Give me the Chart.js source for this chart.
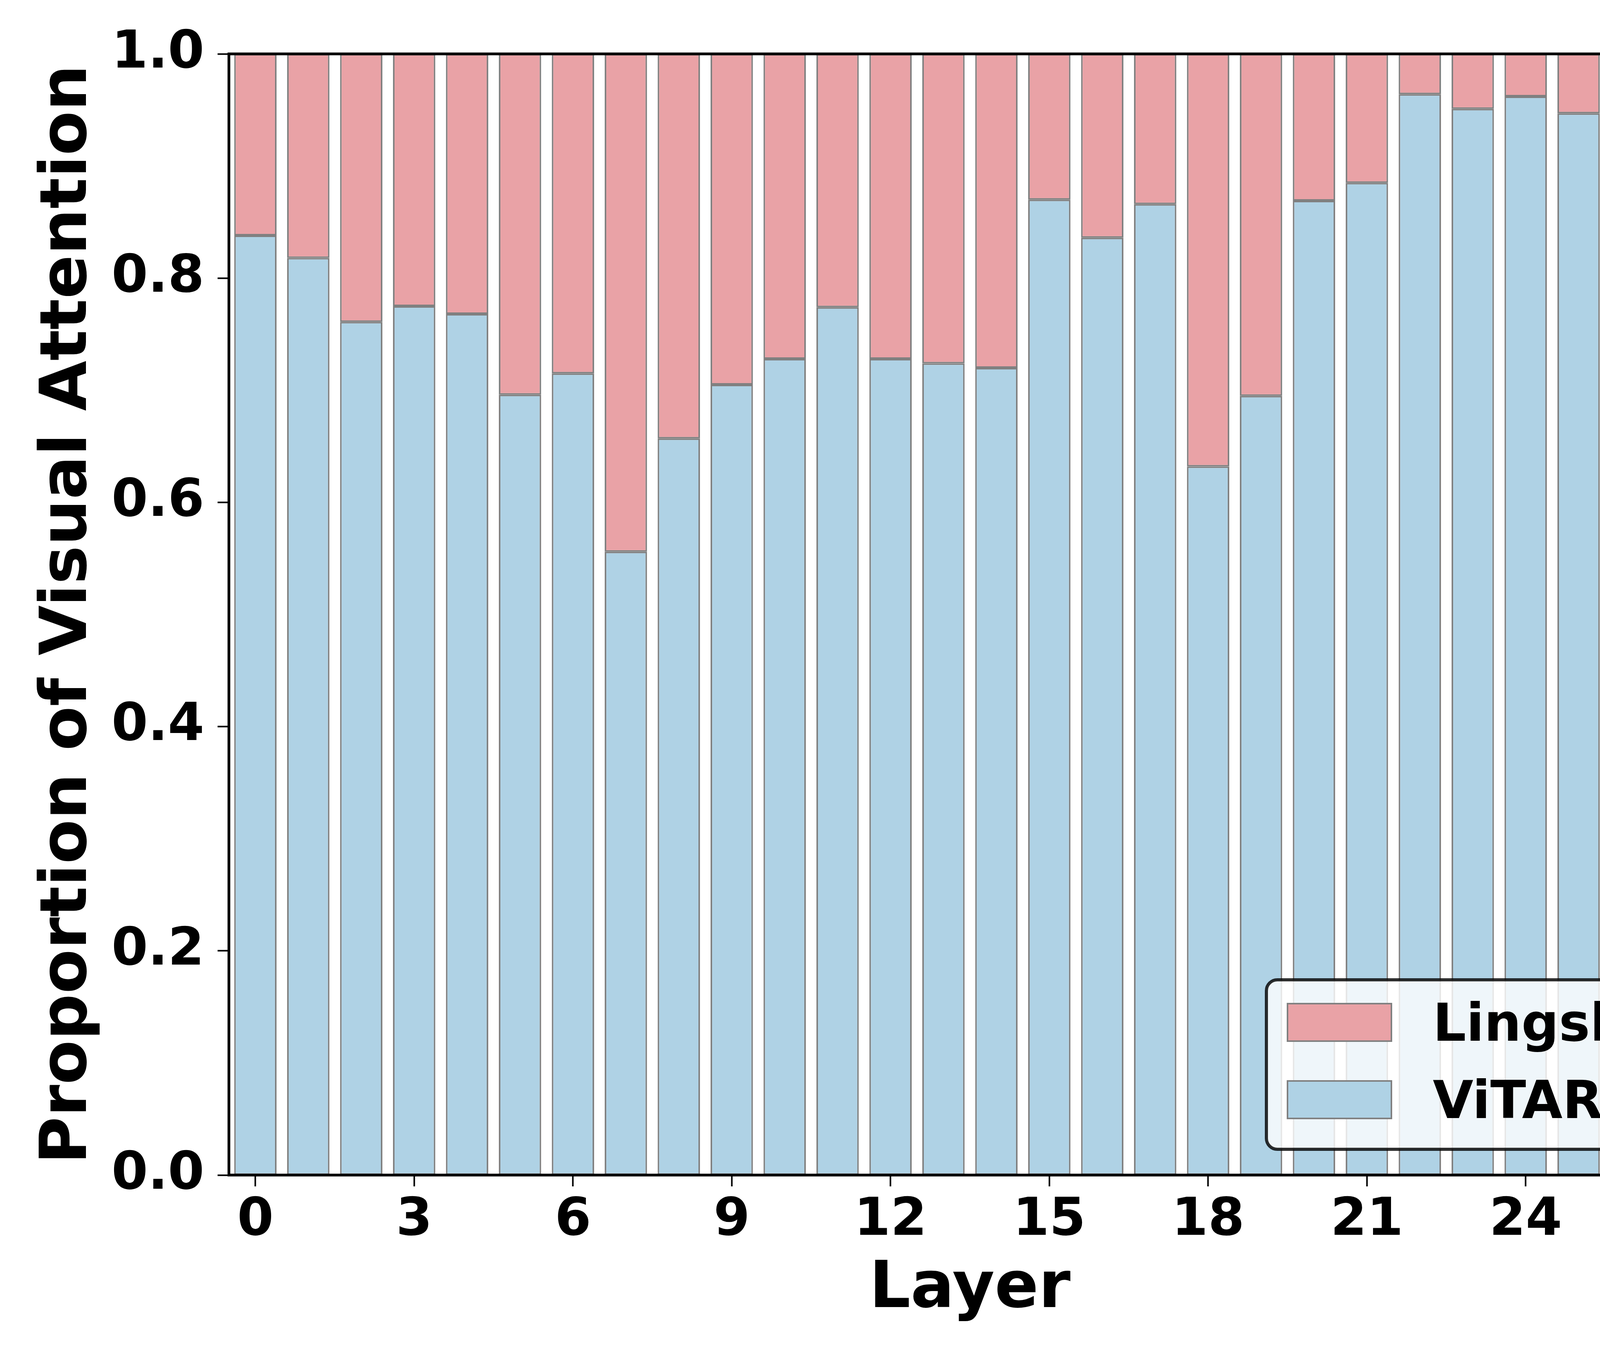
<!DOCTYPE html>
<html>
<head>
<meta charset="utf-8">
<script src="https://cdn.jsdelivr.net/npm/chart.js@4.4.1/dist/chart.umd.min.js"></script>
<style>
  body { margin: 0; background: #ffffff; }
  canvas { display: block; }
</style>
</head>
<body>
<canvas id="attn_chart" width="4500" height="3480" style="width:4500px;height:3480px"></canvas>
<script>
// values
const layers = [0, 1, 2, 3, 4, 5, 6, 7, 8, 9, 10, 11, 12, 13, 14, 15, 16, 17, 18, 19, 20, 21, 22, 23, 24, 25, 26, 27];
const vitar = [0.838, 0.818, 0.761, 0.775, 0.768, 0.696, 0.715, 0.556, 0.657, 0.705, 0.728, 0.774, 0.728, 0.724,
               0.720, 0.870, 0.836, 0.866, 0.632, 0.695, 0.869, 0.885, 0.964, 0.951, 0.962, 0.947, 0.943, 0.883];
const lingshu = [0.162, 0.182, 0.239, 0.225, 0.232, 0.304, 0.285, 0.444, 0.343, 0.295, 0.272, 0.226, 0.272, 0.276,
                 0.280, 0.130, 0.164, 0.134, 0.368, 0.305, 0.131, 0.115, 0.036, 0.049, 0.038, 0.053, 0.057, 0.117];
const yTicks = [0, 0.2, 0.4, 0.6, 0.8, 1.0];

const FONT = "'DejaVu Sans', sans-serif";
const pink = '#e9a2a6';
const blue = '#afd2e5';
const edge = '#808080';

// spines on top of the bars, like matplotlib
const framePlugin = {
    id: 'frame',
    afterDatasetsDraw(chart) {
        const {ctx, chartArea: a} = chart;
        ctx.save();
        ctx.strokeStyle = '#000000';
        ctx.lineWidth = 7;
        ctx.strokeRect(a.left, a.top, a.right - a.left, a.bottom - a.top);
        ctx.restore();
    }
};

// legend box in the lower right corner of the plot
const legendPlugin = {
    id: 'boxLegend',
    afterDraw(chart) {
        const ctx = chart.ctx;
        const x = 3242, y = 2509, w = 1071, h = 434;
        ctx.save();
        ctx.beginPath();
        ctx.roundRect(x, y, w, h, 28);
        ctx.fillStyle = 'rgba(255,255,255,0.8)';
        ctx.fill();
        ctx.lineWidth = 8;
        ctx.strokeStyle = 'rgba(0,0,0,0.82)';
        ctx.stroke();

        const order = [1, 0];
        order.forEach(function(di, row) {
            const ds = chart.data.datasets[di];
            const py = 2570 + row * 198;
            ctx.fillStyle = ds.backgroundColor;
            ctx.fillRect(3296, py, 266, 96);
            ctx.lineWidth = 4;
            ctx.strokeStyle = edge;
            ctx.strokeRect(3296, py, 266, 96);
            ctx.fillStyle = '#000000';
            ctx.font = 'bold 134px ' + FONT;
            ctx.textAlign = 'left';
            ctx.textBaseline = 'alphabetic';
            ctx.fillText(ds.label, 3668, py + 95);
        });
        ctx.restore();
    }
};

const ctx = document.getElementById('attn_chart').getContext('2d');
let myChart = new Chart(ctx, {
    type: 'bar',
    data: {
        labels: layers,
        datasets: [{
            label: 'ViTAR',
            data: vitar,
            backgroundColor: blue,
            borderColor: edge,
            borderWidth: 4,
            borderSkipped: false
        }, {
            label: 'Lingshu',
            data: lingshu,
            backgroundColor: pink,
            borderColor: edge,
            borderWidth: 4,
            borderSkipped: false
        }]
    },
    options: {
        responsive: false,
        animation: false,
        devicePixelRatio: 1,
        layout: {
            padding: {left: 0, top: 138, right: 120, bottom: 0}
        },
        datasets: {
            bar: {categoryPercentage: 1.0, barPercentage: 0.8}
        },
        plugins: {
            legend: {display: false},
            tooltip: {enabled: false}
        },
        scales: {
            x: {
                stacked: true,
                offset: true,
                afterFit(scale) { scale.height = 471; },
                border: {display: false},
                grid: {
                    offset: false,
                    drawOnChartArea: false,
                    drawTicks: true,
                    tickLength: 29,
                    tickWidth: 4,
                    tickColor: c => (c.index % 3 === 0 ? '#000000' : 'rgba(0,0,0,0)')
                },
                ticks: {
                    autoSkip: false,
                    maxRotation: 0,
                    minRotation: 0,
                    padding: 9,
                    color: '#000000',
                    font: {family: FONT, size: 134, weight: 'bold'},
                    callback: (v, i) => (i % 3 === 0 ? String(layers[i]) : '')
                },
                title: {
                    display: true,
                    text: 'Layer',
                    color: '#000000',
                    font: {family: FONT, size: 166, weight: 'bold'},
                    padding: {top: 0, bottom: 77}
                }
            },
            y: {
                stacked: true,
                min: 0,
                max: 1,
                afterFit(scale) { scale.width = 586; },
                afterBuildTicks(scale) {
                    scale.ticks = yTicks.map(v => ({value: v}));
                },
                border: {display: false},
                grid: {
                    drawOnChartArea: false,
                    drawTicks: true,
                    tickLength: 29,
                    tickWidth: 4,
                    tickColor: '#000000'
                },
                ticks: {
                    padding: 34,
                    color: '#000000',
                    font: {family: FONT, size: 134, weight: 'bold'},
                    callback: v => v.toFixed(1)
                },
                title: {
                    display: true,
                    text: 'Proportion of Visual Attention',
                    color: '#000000',
                    font: {family: FONT, size: 166, weight: 'bold'},
                    padding: {top: 77, bottom: 0}
                }
            }
        }
    },
    plugins: [framePlugin, legendPlugin]
});
</script>
</body>
</html>
